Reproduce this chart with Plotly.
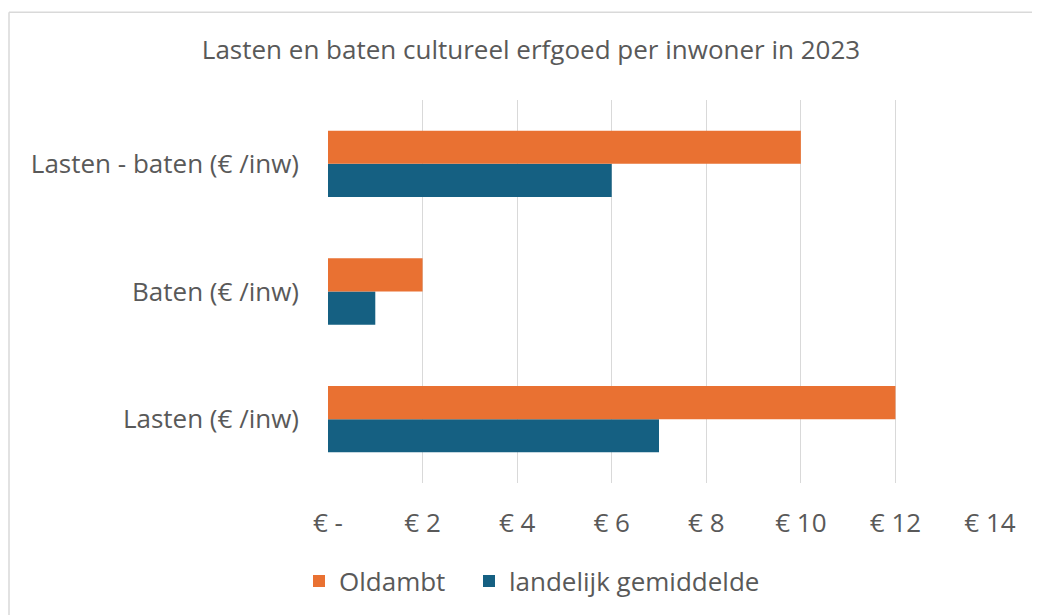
import plotly.graph_objects as go

categories = ["Lasten (€ /inw)", "Baten (€ /inw)", "Lasten - baten (€ /inw)"]
oldambt = [12, 2, 10]
landelijk = [7, 1, 6]
tick_vals = [0, 2, 4, 6, 8, 10, 12, 14]
tick_text = ["€ -", "€ 2", "€ 4", "€ 6", "€ 8", "€ 10", "€ 12", "€ 14"]

ORANGE = "#E97132"
BLUE = "#156082"
TXT = "#595959"
FONT = "Open Sans"
FS = 26

# page has an 8px body margin; figure coordinates = page coordinates - 8
OFF = 8
W, H = 1040 - OFF, 615 - OFF
PL, PR, PT, PB = 328 - OFF, 990 - OFF, 100 - OFF, 484 - OFF
L, R, T, B = PL, W - PR, PT, H - PB
pw = PR - PL
ph = PB - PT

def px_x(px):
    return (px - OFF - PL) / pw

def px_y(py):
    return (PB - (py - OFF)) / ph

fig = go.Figure()
fig.add_trace(go.Bar(y=categories, x=landelijk, orientation="h", name="landelijk gemiddelde",
                     marker=dict(color=BLUE, line=dict(width=0)), legend="legend2"))
fig.add_trace(go.Bar(y=categories, x=oldambt, orientation="h", name="Oldambt",
                     marker=dict(color=ORANGE, line=dict(width=0)), legend="legend"))

leg_common = dict(orientation="h", yanchor="middle", y=px_y(581), xanchor="left",
                  font=dict(family=FONT, size=FS, color=TXT),
                  itemwidth=30, bgcolor="rgba(0,0,0,0)")

border = dict(color="#d9d9d9", width=1.5)

fig.update_layout(
    width=W, height=H,
    margin=dict(l=L, r=R, t=T, b=B),
    paper_bgcolor="white", plot_bgcolor="white",
    barmode="group", bargap=0.48, bargroupgap=0,
    font=dict(family=FONT, color=TXT, size=FS),
    title=dict(text="Lasten en baten cultureel erfgoed per inwoner in 2023",
               x=(531 - OFF) / W, xanchor="center", y=1 - (50 - OFF) / H, yanchor="middle",
               font=dict(family=FONT, size=FS, color=TXT)),
    xaxis=dict(range=[0, 14], tickvals=tick_vals, ticktext=tick_text,
               showgrid=True, gridcolor="#d9d9d9", gridwidth=1,
               zeroline=False, showline=False, ticks="",
               ticklabelstandoff=22,
               tickfont=dict(family=FONT, size=FS, color=TXT)),
    yaxis=dict(showgrid=False, zeroline=False, showline=False, ticks="",
               ticklabelstandoff=28,
               tickfont=dict(family=FONT, size=FS, color=TXT)),
    legend=dict(x=px_x(299), **leg_common),
    legend2=dict(x=px_x(469), **leg_common),
    showlegend=True,
    shapes=[
        dict(type="line", xref="paper", yref="paper",
             x0=px_x(9), x1=px_x(1045), y0=px_y(12), y1=px_y(12),
             line=border, layer="below"),
        dict(type="line", xref="paper", yref="paper",
             x0=px_x(9), x1=px_x(9), y0=px_y(12), y1=px_y(630),
             line=border, layer="below"),
    ],
)

fig.write_html("out.html")
